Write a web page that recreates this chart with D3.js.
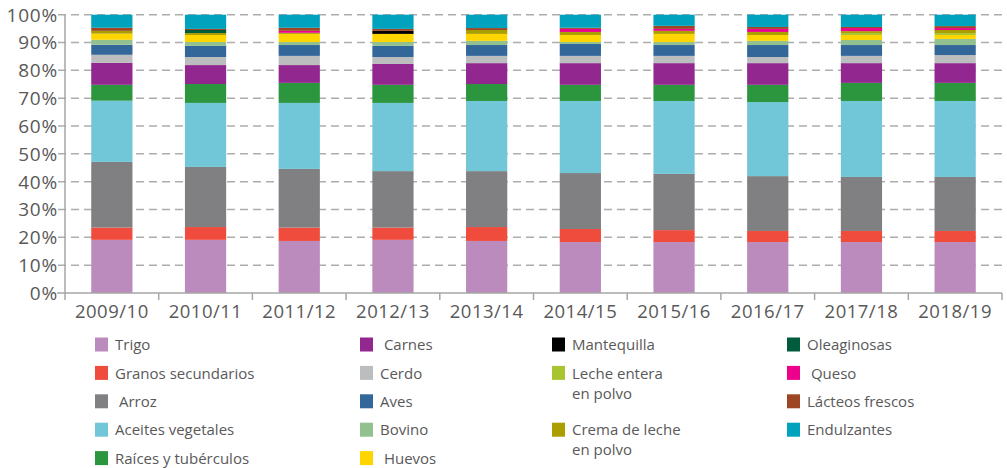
<!DOCTYPE html>
<html>
<head>
<meta charset="utf-8">
<script src="https://cdn.jsdelivr.net/npm/d3@7"></script>
<style>
  html, body { margin: 0; padding: 0; background: #fff; }
  svg { display: block; }
  text { font-family: "Open Sans", "Noto Sans", sans-serif; fill: #595959; }
</style>
</head>
<body>
<svg id="chart" width="1007" height="468"></svg>
<script>
// Campañas (eje X)
const years = ["2009/10","2010/11","2011/12","2012/13","2013/14","2014/15","2015/16","2016/17","2017/18","2018/19"];

// Participación de cada producto (%), por campaña
const trigo       = [19.1,19.1,18.7,19.1,18.7,18.3,18.3,18.3,18.3,18.3];
const granos      = [4.4,4.6,4.8,4.4,5.0,4.7,4.3,4.0,4.0,4.0];
const arroz       = [23.6,21.6,21.1,20.3,20.1,20.1,20.2,19.7,19.4,19.4];
const aceites     = [22.0,23.0,23.7,24.5,25.2,25.9,26.2,26.6,27.3,27.3];
const raices      = [5.7,6.8,7.2,6.5,6.1,5.8,5.8,6.2,6.5,6.5];
const carnes      = [7.9,6.8,6.4,7.5,7.5,7.8,7.8,7.8,7.1,7.1];
const cerdo       = [2.9,2.9,3.3,2.5,2.6,2.6,2.6,2.2,2.6,2.9];
const aves        = [3.6,4.0,3.9,4.0,3.9,4.3,3.9,4.3,3.9,3.6];
const bovino      = [1.8,1.4,1.1,1.4,1.5,0.7,1.1,1.5,1.8,2.2];
const huevos      = [2.2,2.5,2.9,2.9,2.5,2.5,2.9,2.1,1.8,1.4];
const mantequilla = [0,0,0,1.1,0,0,0,0,0,0];
const lecheEntera = [0,0,0,0,0,0,0,0,0.7,0.7];
const crema       = [1.0,0.7,0.4,0,1.4,1.1,1.1,1.1,0.7,1.1];
const oleaginosas = [0,1.1,0,0,0,0,0,0,0,0];
const queso       = [0,0,0.7,0,0,1.1,0.7,1.1,1.1,0.7];
const lacteos     = [1.1,0.4,1.1,0.7,0.7,0.4,1.1,0.7,0.4,0.7];
const endulzantes = [4.7,5.1,4.7,5.1,4.8,4.7,4.0,4.4,4.4,4.1];

// Ticks del eje Y
const yTicks = [0,10,20,30,40,50,60,70,80,90,100];

// Series en orden de apilado (de abajo hacia arriba)
const series = [
  { key: "Trigo",               values: trigo,       color: "#bb8bbd" },
  { key: "Granos secundarios",  values: granos,      color: "#f04c3e" },
  { key: " Arroz",              values: arroz,       color: "#808083" },
  { key: "Aceites vegetales",   values: aceites,     color: "#71c6d8" },
  { key: "Raíces y tubérculos", values: raices,      color: "#2c963f" },
  { key: " Carnes",             values: carnes,      color: "#91278f" },
  { key: "Cerdo",               values: cerdo,       color: "#bcbdbf" },
  { key: "Aves",                values: aves,        color: "#336699" },
  { key: "Bovino",              values: bovino,      color: "#92c08e" },
  { key: " Huevos",             values: huevos,      color: "#ffd500" },
  { key: "Mantequilla",         values: mantequilla, color: "#000000" },
  { key: "Leche entera|en polvo", values: lecheEntera, color: "#a8c530" },
  { key: "Crema de leche|en polvo", values: crema,   color: "#ab9f00" },
  { key: "Oleaginosas",         values: oleaginosas, color: "#005c3c" },
  { key: " Queso",              values: queso,       color: "#ec008c" },
  { key: "Lácteos frescos",     values: lacteos,     color: "#9e4623" },
  { key: "Endulzantes",         values: endulzantes, color: "#00a2bd" }
];

const rows = years.map((yr, i) => {
  const r = { year: yr };
  series.forEach(s => { r[s.key] = s.values[i]; });
  return r;
});

const svg = d3.select("#chart");
const plotLeft = 65, plotRight = 1002, plotTop = 14.7, plotBottom = 293;

const x = d3.scaleBand().domain(years).range([plotLeft, plotRight]).padding(0);
const y = d3.scaleLinear().domain([0, 100]).range([plotBottom, plotTop]);
const barW = x.bandwidth() * 0.44;

// Líneas de grilla punteadas
svg.append("g").selectAll("line")
  .data(yTicks.filter(t => t > 0))
  .join("line")
  .attr("x1", 58).attr("x2", plotRight)
  .attr("y1", d => y(d)).attr("y2", d => y(d))
  .attr("stroke", "#adadad").attr("stroke-width", 1.5)
  .attr("stroke-dasharray", "8,5");

// Barras apiladas
const stack = d3.stack().keys(series.map(s => s.key));
const stacked = stack(rows);
svg.append("g").selectAll("g")
  .data(stacked)
  .join("g")
  .attr("fill", (d, i) => series[i].color)
  .selectAll("rect")
  .data(d => d)
  .join("rect")
  .attr("x", d => x(d.data.year) + (x.bandwidth() - barW) / 2)
  .attr("width", barW)
  .attr("y", d => y(d[1]))
  .attr("height", d => Math.max(0, y(d[0]) - y(d[1])));

// Eje Y
const yAxis = svg.append("g");
yAxis.append("line")
  .attr("x1", plotLeft).attr("x2", plotLeft).attr("y1", plotTop).attr("y2", plotBottom)
  .attr("stroke", "#a6a6a6").attr("stroke-width", 1.5);
yAxis.selectAll("text")
  .data(yTicks)
  .join("text")
  .attr("x", 58).attr("y", d => y(d))
  .attr("dy", "0.36em")
  .attr("text-anchor", "end")
  .attr("font-size", 19)
  .attr("letter-spacing", 0.8)
  .text(d => d + "%");

// Eje X
const xAxis = svg.append("g");
xAxis.append("line")
  .attr("x1", 57).attr("x2", plotRight).attr("y1", plotBottom).attr("y2", plotBottom)
  .attr("stroke", "#a6a6a6").attr("stroke-width", 1.5);
xAxis.selectAll("line.sep")
  .data(years.map(d => x(d)).concat([plotRight]))
  .join("line").attr("class", "sep")
  .attr("x1", d => d).attr("x2", d => d)
  .attr("y1", plotBottom).attr("y2", plotBottom + 7)
  .attr("stroke", "#a6a6a6").attr("stroke-width", 1.5);
xAxis.selectAll("text")
  .data(years)
  .join("text")
  .attr("x", d => x(d) + x.bandwidth() / 2)
  .attr("y", 318)
  .attr("text-anchor", "middle")
  .attr("font-size", 18.5)
  .attr("letter-spacing", 0.5)
  .text(d => d);

// Leyenda en cuatro columnas
const colX = [95, 360, 552, 787];
const legendRows = [
  [0, 0, 0], [1, 0, 1], [2, 0, 2], [3, 0, 3], [4, 0, 4],
  [5, 1, 0], [6, 1, 1], [7, 1, 2], [8, 1, 3], [9, 1, 4],
  [10, 2, 0], [11, 2, 1], [12, 2, 3],
  [13, 3, 0], [14, 3, 1], [15, 3, 2], [16, 3, 3]
];
const rowY = r => 345 + r * 28.4;
const legend = svg.append("g");
legendRows.forEach(([si, col, row]) => {
  const s = series[si];
  const cy = rowY(row);
  legend.append("rect")
    .attr("x", colX[col]).attr("y", cy - 7.5)
    .attr("width", 13).attr("height", 14)
    .attr("fill", s.color);
  const lines = s.key.split("|");
  const t = legend.append("text")
    .attr("x", colX[col] + 20).attr("y", cy)
    .attr("font-size", 15)
    .style("white-space", "pre");
  lines.forEach((ln, k) => {
    t.append("tspan")
      .attr("x", colX[col] + 20)
      .attr("y", cy + k * 20)
      .attr("dy", "0.35em")
      .text(ln);
  });
});
</script>
</body>
</html>
